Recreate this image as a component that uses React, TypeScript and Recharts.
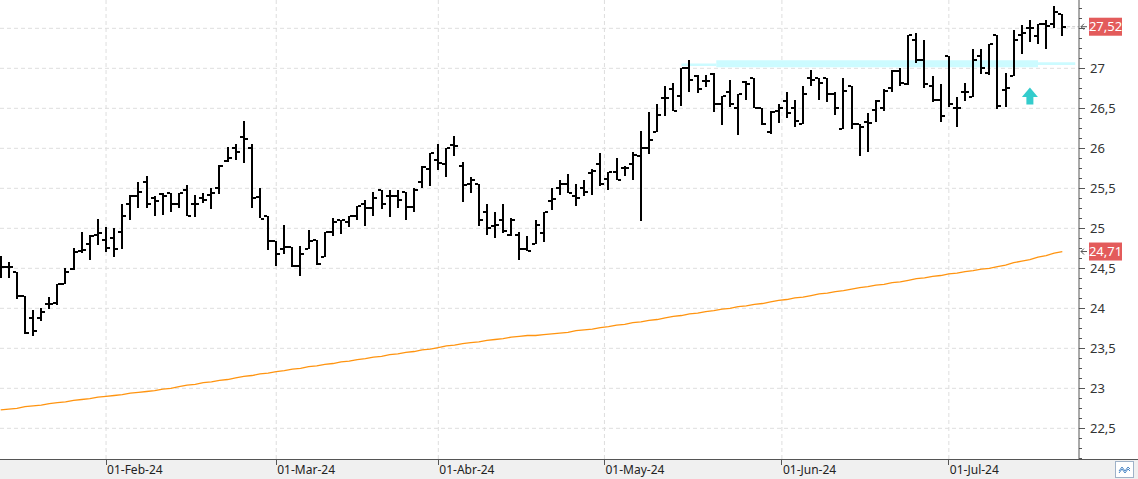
import React from 'react';
import {
  ComposedChart,
  Bar,
  Line,
  XAxis,
  YAxis,
  CartesianGrid,
  ReferenceArea,
  ReferenceLine,
  ReferenceDot,
} from 'recharts';

// trading days shown (Jan 15 - Jul 19, 2024)
const janDays = [15, 16, 17, 18, 19, 22, 23, 24, 25, 26, 29, 30, 31];
const febDays = [1, 2, 5, 6, 7, 8, 9, 12, 13, 14, 15, 16, 19, 20, 21, 22, 23, 26, 27, 28, 29];
const marDays = [1, 4, 5, 6, 7, 8, 11, 12, 13, 14, 15, 18, 19, 20, 21, 22, 25, 26, 27, 28];
const aprDays = [2, 3, 4, 5, 8, 9, 10, 11, 12, 15, 16, 17, 18, 19, 22, 23, 24, 25, 26, 29, 30];
const mayDays = [2, 3, 6, 7, 8, 9, 10, 13, 14, 15, 16, 17, 20, 21, 22, 23, 24, 27, 28, 29, 30, 31];
const junDays = [3, 4, 5, 6, 7, 10, 11, 12, 13, 14, 17, 18, 19, 20, 21, 24, 25, 26, 27, 28];
const julDays = [1, 2, 3, 4, 5, 8, 9, 10, 11, 12, 15, 16, 17, 18, 19];

const opens = [
  24.58, 24.52, 24.45, 24.15, 23.88, 23.88, 24.05, 24.07, 24.31, 24.49,
  24.72, 24.8, 24.92, 24.85, 24.88, 24.95, 25.31, 25.41, 25.58, 25.38,
  25.43, 25.44, 25.3, 25.48, 25.3, 25.38, 25.42, 25.51, 25.84, 26.0,
  26.14, 26.0, 25.39, 25.15, 24.84, 24.74, 24.77, 24.53, 24.74, 24.85,
  24.64, 24.95, 25.1, 25.08, 25.15, 25.3, 25.25, 25.48, 25.4, 25.4,
  25.45, 25.27, 25.58, 25.74, 25.85, 25.8, 26.04, 25.78, 25.56, 25.55,
  25.2, 25.03, 25.1, 24.92, 24.92, 24.74, 24.8, 24.94, 25.34, 25.5,
  25.55, 25.4, 25.51, 25.69, 25.8, 25.62, 25.71, 25.75, 25.8, 25.9,
  26.0, 26.2, 26.63, 26.74, 26.65, 27.01, 26.91, 26.84, 26.93, 26.56,
  26.71, 26.5, 26.83, 26.88, 26.51, 26.2, 26.47, 26.59, 26.5, 26.3,
  26.88, 26.88, 26.88, 26.68, 26.24, 26.78, 26.31, 26.33, 26.48, 26.51,
  26.75, 26.97, 26.81, 27.35, 27.1, 26.78, 26.61, 27.15, 26.5, 26.71,
  26.64, 27.16, 26.94, 27.42, 26.73, 26.9, 27.42, 27.5, 27.41, 27.55,
  27.55, 27.68,
];
const highs = [
  24.65, 24.58, 24.45, 24.15, 23.98, 24.01, 24.14, 24.31, 24.5, 24.75,
  24.96, 24.92, 25.12, 25.02, 25.01, 25.31, 25.42, 25.58, 25.65, 25.4,
  25.44, 25.44, 25.44, 25.54, 25.42, 25.44, 25.5, 25.79, 26.02, 26.05,
  26.34, 26.05, 25.5, 25.15, 24.84, 25.04, 24.77, 24.78, 24.98, 24.85,
  24.95, 25.13, 25.11, 25.15, 25.28, 25.36, 25.45, 25.48, 25.48, 25.48,
  25.45, 25.5, 25.78, 25.94, 26.05, 26.01, 26.15, 25.83, 25.64, 25.55,
  25.3, 25.2, 25.3, 25.13, 24.95, 24.9, 25.1, 25.2, 25.51, 25.6,
  25.68, 25.55, 25.6, 25.74, 25.94, 25.7, 25.88, 25.78, 25.95, 26.22,
  26.45, 26.55, 26.78, 26.82, 27.01, 27.1, 26.92, 26.92, 26.94, 26.65,
  26.85, 26.68, 26.84, 26.88, 26.51, 26.47, 26.55, 26.7, 26.61, 26.78,
  26.98, 26.88, 26.88, 26.7, 26.88, 26.78, 26.31, 26.44, 26.61, 26.74,
  26.98, 27.0, 27.42, 27.44, 27.35, 26.9, 26.81, 27.15, 26.64, 26.82,
  27.24, 27.24, 27.31, 27.42, 26.94, 27.48, 27.54, 27.6, 27.55, 27.61,
  27.78, 27.68,
];
const lows = [
  24.38, 24.38, 24.11, 23.68, 23.65, 23.85, 23.99, 24.05, 24.3, 24.48,
  24.7, 24.61, 24.79, 24.71, 24.65, 24.75, 25.11, 25.25, 25.25, 25.15,
  25.17, 25.2, 25.25, 25.15, 25.15, 25.31, 25.24, 25.43, 25.83, 25.85,
  25.81, 25.25, 25.12, 24.73, 24.53, 24.68, 24.52, 24.4, 24.74, 24.54,
  24.64, 24.9, 24.94, 25.01, 25.11, 25.03, 25.15, 25.24, 25.14, 25.25,
  25.1, 25.2, 25.51, 25.53, 25.72, 25.65, 25.9, 25.33, 25.44, 25.03,
  24.91, 24.88, 24.94, 24.9, 24.6, 24.71, 24.8, 24.83, 25.24, 25.41,
  25.44, 25.27, 25.4, 25.41, 25.53, 25.48, 25.6, 25.65, 25.6, 25.1,
  25.93, 26.2, 26.41, 26.47, 26.53, 26.7, 26.7, 26.77, 26.45, 26.29,
  26.51, 26.17, 26.6, 26.51, 26.3, 26.18, 26.31, 26.38, 26.27, 26.3,
  26.78, 26.6, 26.58, 26.41, 26.24, 26.24, 25.91, 25.95, 26.33, 26.47,
  26.7, 26.78, 26.8, 27.07, 26.75, 26.57, 26.33, 26.51, 26.27, 26.6,
  26.64, 26.93, 26.92, 26.5, 26.51, 26.9, 27.18, 27.33, 27.3, 27.25,
  27.5, 27.4,
];
const closes = [
  24.52, 24.52, 24.15, 23.69, 23.72, 23.95, 24.06, 24.3, 24.46, 24.71,
  24.73, 24.9, 24.94, 24.75, 24.74, 25.15, 25.41, 25.45, 25.31, 25.34,
  25.4, 25.31, 25.44, 25.15, 25.31, 25.35, 25.44, 25.78, 25.88, 25.95,
  26.12, 25.38, 25.12, 24.84, 24.68, 24.77, 24.53, 24.68, 24.84, 24.55,
  24.95, 25.08, 25.1, 25.15, 25.28, 25.25, 25.38, 25.31, 25.41, 25.35,
  25.27, 25.48, 25.77, 25.94, 25.82, 26.01, 26.03, 25.54, 25.6, 25.1,
  25.01, 25.04, 24.97, 25.1, 24.74, 24.72, 25.04, 25.2, 25.37, 25.55,
  25.44, 25.38, 25.46, 25.72, 25.55, 25.7, 25.6, 25.75, 25.92, 26.0,
  26.1, 26.42, 26.63, 26.47, 27.01, 26.85, 26.74, 26.84, 26.56, 26.65,
  26.55, 26.68, 26.81, 26.51, 26.3, 26.46, 26.5, 26.44, 26.34, 26.68,
  26.85, 26.82, 26.68, 26.5, 26.72, 26.3, 26.27, 26.32, 26.59, 26.72,
  26.97, 26.82, 27.42, 27.1, 26.8, 26.61, 26.41, 26.55, 26.5, 26.71,
  27.1, 27.01, 27.3, 26.53, 26.75, 27.35, 27.44, 27.5, 27.55, 27.53,
  27.7, 27.52,
];
// moving average (orange line)
const movingAvg = [
  22.73, 22.74, 22.75, 22.77, 22.78, 22.79, 22.81, 22.82, 22.83, 22.85,
  22.86, 22.87, 22.89, 22.9, 22.91, 22.92, 22.94, 22.95, 22.96, 22.97,
  22.99, 23.0, 23.02, 23.04, 23.05, 23.07, 23.08, 23.1, 23.11, 23.13,
  23.15, 23.16, 23.18, 23.19, 23.21, 23.22, 23.24, 23.25, 23.27, 23.28,
  23.3, 23.31, 23.33, 23.34, 23.36, 23.37, 23.39, 23.4, 23.42, 23.43,
  23.45, 23.46, 23.48, 23.49, 23.51, 23.53, 23.54, 23.56, 23.57, 23.58,
  23.6, 23.61, 23.62, 23.64, 23.65, 23.66, 23.66, 23.67, 23.68, 23.69,
  23.7, 23.72, 23.73, 23.74, 23.76, 23.77, 23.79, 23.8, 23.82, 23.83,
  23.85, 23.86, 23.88, 23.9, 23.91, 23.93, 23.94, 23.96, 23.97, 23.99,
  24.0, 24.02, 24.03, 24.05, 24.06, 24.08, 24.1, 24.11, 24.13, 24.14,
  24.16, 24.18, 24.19, 24.21, 24.22, 24.24, 24.26, 24.27, 24.29, 24.3,
  24.32, 24.33, 24.35, 24.37, 24.38, 24.4, 24.41, 24.43, 24.44, 24.46,
  24.47, 24.49, 24.5, 24.52, 24.54, 24.57, 24.59, 24.61, 24.64, 24.66,
  24.69, 24.71,
];

// month labels sit on the first session (or between sessions when the 1st is closed)
const monthTicks = [13, 34, 54, 74.5, 96.4, 117];
const monthLabels = ['01-Feb-24', '01-Mar-24', '01-Abr-24', '01-May-24', '01-Jun-24', '01-Jul-24'];
const priceTicks = [22.5, 23, 23.5, 24, 24.5, 25, 25.5, 26, 26.5, 27, 27.5];
const lastClose = 27.52;
const lastAvg = 24.71;

const months = [janDays, febDays, marDays, aprDays, mayDays, junDays, julDays];
const dates = months.flatMap((days, m) =>
  days.map((d) => `2024-${String(m + 1).padStart(2, '0')}-${String(d).padStart(2, '0')}`)
);

const data = dates.map((date, i) => ({
  idx: i,
  date,
  open: opens[i],
  high: highs[i],
  low: lows[i],
  close: closes[i],
  range: [lows[i], highs[i]],
  ma: movingAvg[i],
}));

// minor ticks on the price scale every 1/8
const axisTicks: number[] = [];
for (let k = 177; k <= 222; k++) axisTicks.push(k / 8);

const fmt = (v: number) => String(v).replace('.', ',');
const FONT = '"Noto Sans", "DejaVu Sans", sans-serif';

const OhlcBar = (props: any) => {
  const { x, y, width, height, payload } = props;
  if (!payload) return null;
  const cx = Math.round(x + width / 2);
  const span = payload.high - payload.low;
  const toY = (v: number) => (span > 0 ? y + ((payload.high - v) / span) * height : y);
  const yo = Math.round(toY(payload.open));
  const yc = Math.round(toY(payload.close));
  return (
    <g fill="#000" shapeRendering="crispEdges">
      <rect x={cx - 1} y={Math.round(y)} width={2} height={Math.max(Math.round(height), 1)} />
      <rect x={cx - 4} y={yo - 1} width={3} height={2} />
      <rect x={cx + 1} y={yc - 1} width={3} height={2} />
    </g>
  );
};

const PriceTick = (props: any) => {
  const { x, y, payload } = props;
  const v = payload.value;
  const major = Math.abs(v * 2 - Math.round(v * 2)) < 1e-6;
  // the last-price tag covers the 27,5 label
  const showLabel = major && v >= 22.5 && v <= 27 + 1e-9;
  return (
    <g>
      <line x1={x} x2={x + (major ? 6 : 3)} y1={y} y2={y} stroke="#555" shapeRendering="crispEdges" />
      {showLabel && (
        <text x={x + 11} y={y} dy="0.36em" fontSize={13} fill="#333" fontFamily={FONT}>
          {fmt(v)}
        </text>
      )}
    </g>
  );
};

const DateTick = (props: any) => {
  const { x, y, payload } = props;
  const i = monthTicks.indexOf(payload.value);
  return (
    <g>
      <line x1={x} x2={x} y1={y} y2={y + 6} stroke="#555" shapeRendering="crispEdges" />
      <text x={x + 1} y={y + 15} fontSize={12} fill="#222" fontFamily={FONT}>
        {i >= 0 ? monthLabels[i] : ''}
      </text>
    </g>
  );
};

const PriceTag = (props: any) => {
  const { viewBox, text } = props;
  const right = viewBox.x + viewBox.width;
  const y = viewBox.y;
  return (
    <g>
      <path
        d={`M${right + 2},${y} L${right + 8},${y} M${right + 2},${y} L${right + 5},${y - 3} M${right + 2},${y} L${right + 5},${y + 3}`}
        stroke="#555"
        fill="none"
      />
      <rect x={right + 10} y={y - 9} width={33} height={18} fill="#e35b5b" />
      <text x={right + 26.5} y={y} dy="0.36em" textAnchor="middle" fontSize={13} fill="#fff" fontFamily={FONT}>
        {text}
      </text>
    </g>
  );
};

const UpArrow = (props: any) => {
  const { cx, cy } = props;
  return (
    <g fill="#33cccc">
      <polygon points={`${cx},${cy - 8.5} ${cx - 8},${cy + 1} ${cx + 8},${cy + 1}`} />
      <rect x={cx - 3.5} y={cy + 1} width={7} height={7.5} />
    </g>
  );
};

export default function App() {
  return (
    <div style={{ position: 'absolute', left: 0, top: 0, width: 1138, height: 479, background: '#fff' }}>
      <div
        style={{
          position: 'absolute',
          left: 0,
          top: 459,
          width: 1138,
          height: 20,
          background: '#f0f0f0',
          borderTop: '1px solid #555',
          boxSizing: 'border-box',
        }}
      />
      <svg width={19} height={17} style={{ position: 'absolute', left: 1115, top: 461 }}>
        <rect x={0.5} y={0.5} width={18} height={16} fill="#fff" stroke="#9fb2c8" />
        <polyline points="4,10 7,6 10,10 13,6 15,8" fill="none" stroke="#4a86c5" strokeWidth={1} />
        <polyline points="4,12 7,8 10,12 13,8 15,10" fill="none" stroke="#4a86c5" strokeWidth={1} />
      </svg>
      <div style={{ position: 'absolute', left: 0, top: 0 }}>
        <ComposedChart width={1138} height={479} data={data} margin={{ top: 0, right: 0, bottom: 0, left: 0 }}>
          <CartesianGrid
            stroke="#dedede"
            strokeDasharray="4 3"
            horizontalValues={priceTicks}
            verticalValues={monthTicks}
          />
          <ReferenceArea x1={84} x2={88.3} y1={27.03} y2={27.06} fill="#ccfbff" fillOpacity={1} stroke="none" />
          <ReferenceArea x1={88.3} x2={128} y1={27.013} y2={27.1} fill="#ccfbff" fillOpacity={1} stroke="none" />
          <ReferenceArea x1={128} x2={132.6} y1={27.04} y2={27.077} fill="#ccfbff" fillOpacity={1} stroke="none" />
          <XAxis
            dataKey="idx"
            type="number"
            domain={[-0.087, 133.06]}
            allowDataOverflow
            ticks={monthTicks}
            interval={0}
            height={20}
            axisLine={false}
            tickLine={false}
            tickSize={0}
            tickMargin={0}
            tick={<DateTick />}
          />
          <YAxis
            orientation="right"
            type="number"
            domain={[22.1165, 27.854]}
            allowDataOverflow
            ticks={axisTicks}
            interval={0}
            width={59}
            axisLine={{ stroke: '#555' }}
            tickLine={false}
            tickSize={0}
            tickMargin={0}
            tick={<PriceTick />}
          />
          <Line
            dataKey="ma"
            type="linear"
            stroke="#ff9410"
            strokeWidth={1.3}
            dot={false}
            activeDot={false}
            isAnimationActive={false}
          />
          <Bar dataKey="range" barSize={8} shape={<OhlcBar />} activeBar={false} isAnimationActive={false} />
          <ReferenceLine
            segment={[
              { x: 131.6, y: lastClose },
              { x: 133.06, y: lastClose },
            ]}
            stroke="#c8c8c8"
            strokeDasharray="3 2"
          />
          <ReferenceLine y={lastClose} stroke="none" label={<PriceTag text={fmt(lastClose)} />} />
          <ReferenceLine y={lastAvg} stroke="none" label={<PriceTag text={fmt(lastAvg)} />} />
          <ReferenceDot x={127} y={26.654} r={0} shape={<UpArrow />} />
        </ComposedChart>
      </div>
    </div>
  );
}
